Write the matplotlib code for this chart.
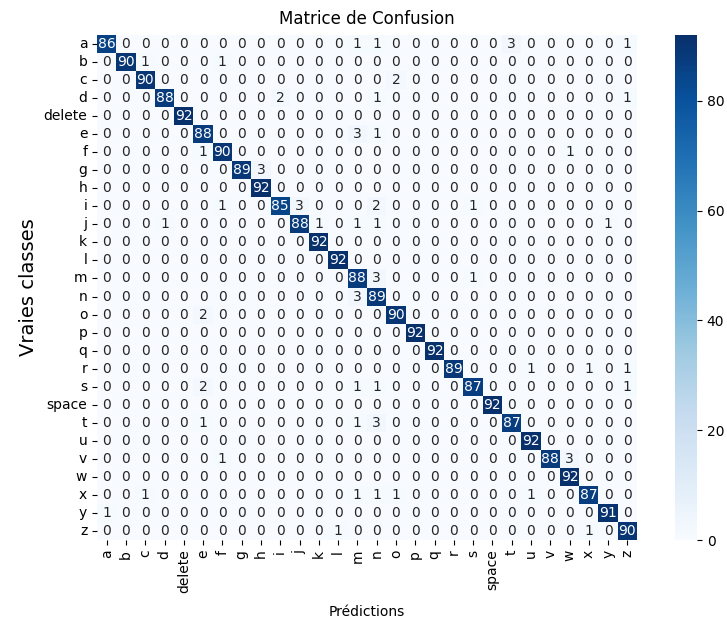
import numpy as np
import matplotlib
matplotlib.use("Agg")
import matplotlib.pyplot as plt
import seaborn as sns

classes = ["a", "b", "c", "d", "delete", "e", "f", "g", "h", "i", "j", "k", "l", "m",
           "n", "o", "p", "q", "r", "s", "space", "t", "u", "v", "w", "x", "y", "z"]

# lignes = vraies classes, colonnes = prédictions
cm = np.array([
    [86, 0, 0, 0, 0, 0, 0, 0, 0, 0, 0, 0, 0, 1, 1, 0, 0, 0, 0, 0, 0, 3, 0, 0, 0, 0, 0, 1],
    [0, 90, 1, 0, 0, 0, 1, 0, 0, 0, 0, 0, 0, 0, 0, 0, 0, 0, 0, 0, 0, 0, 0, 0, 0, 0, 0, 0],
    [0, 0, 90, 0, 0, 0, 0, 0, 0, 0, 0, 0, 0, 0, 0, 2, 0, 0, 0, 0, 0, 0, 0, 0, 0, 0, 0, 0],
    [0, 0, 0, 88, 0, 0, 0, 0, 0, 2, 0, 0, 0, 0, 1, 0, 0, 0, 0, 0, 0, 0, 0, 0, 0, 0, 0, 1],
    [0, 0, 0, 0, 92, 0, 0, 0, 0, 0, 0, 0, 0, 0, 0, 0, 0, 0, 0, 0, 0, 0, 0, 0, 0, 0, 0, 0],
    [0, 0, 0, 0, 0, 88, 0, 0, 0, 0, 0, 0, 0, 3, 1, 0, 0, 0, 0, 0, 0, 0, 0, 0, 0, 0, 0, 0],
    [0, 0, 0, 0, 0, 1, 90, 0, 0, 0, 0, 0, 0, 0, 0, 0, 0, 0, 0, 0, 0, 0, 0, 0, 1, 0, 0, 0],
    [0, 0, 0, 0, 0, 0, 0, 89, 3, 0, 0, 0, 0, 0, 0, 0, 0, 0, 0, 0, 0, 0, 0, 0, 0, 0, 0, 0],
    [0, 0, 0, 0, 0, 0, 0, 0, 92, 0, 0, 0, 0, 0, 0, 0, 0, 0, 0, 0, 0, 0, 0, 0, 0, 0, 0, 0],
    [0, 0, 0, 0, 0, 0, 1, 0, 0, 85, 3, 0, 0, 0, 2, 0, 0, 0, 0, 1, 0, 0, 0, 0, 0, 0, 0, 0],
    [0, 0, 0, 1, 0, 0, 0, 0, 0, 0, 88, 1, 0, 1, 1, 0, 0, 0, 0, 0, 0, 0, 0, 0, 0, 0, 1, 0],
    [0, 0, 0, 0, 0, 0, 0, 0, 0, 0, 0, 92, 0, 0, 0, 0, 0, 0, 0, 0, 0, 0, 0, 0, 0, 0, 0, 0],
    [0, 0, 0, 0, 0, 0, 0, 0, 0, 0, 0, 0, 92, 0, 0, 0, 0, 0, 0, 0, 0, 0, 0, 0, 0, 0, 0, 0],
    [0, 0, 0, 0, 0, 0, 0, 0, 0, 0, 0, 0, 0, 88, 3, 0, 0, 0, 0, 1, 0, 0, 0, 0, 0, 0, 0, 0],
    [0, 0, 0, 0, 0, 0, 0, 0, 0, 0, 0, 0, 0, 3, 89, 0, 0, 0, 0, 0, 0, 0, 0, 0, 0, 0, 0, 0],
    [0, 0, 0, 0, 0, 2, 0, 0, 0, 0, 0, 0, 0, 0, 0, 90, 0, 0, 0, 0, 0, 0, 0, 0, 0, 0, 0, 0],
    [0, 0, 0, 0, 0, 0, 0, 0, 0, 0, 0, 0, 0, 0, 0, 0, 92, 0, 0, 0, 0, 0, 0, 0, 0, 0, 0, 0],
    [0, 0, 0, 0, 0, 0, 0, 0, 0, 0, 0, 0, 0, 0, 0, 0, 0, 92, 0, 0, 0, 0, 0, 0, 0, 0, 0, 0],
    [0, 0, 0, 0, 0, 0, 0, 0, 0, 0, 0, 0, 0, 0, 0, 0, 0, 0, 89, 0, 0, 0, 1, 0, 0, 1, 0, 1],
    [0, 0, 0, 0, 0, 2, 0, 0, 0, 0, 0, 0, 0, 1, 1, 0, 0, 0, 0, 87, 0, 0, 0, 0, 0, 0, 0, 1],
    [0, 0, 0, 0, 0, 0, 0, 0, 0, 0, 0, 0, 0, 0, 0, 0, 0, 0, 0, 0, 92, 0, 0, 0, 0, 0, 0, 0],
    [0, 0, 0, 0, 0, 1, 0, 0, 0, 0, 0, 0, 0, 1, 3, 0, 0, 0, 0, 0, 0, 87, 0, 0, 0, 0, 0, 0],
    [0, 0, 0, 0, 0, 0, 0, 0, 0, 0, 0, 0, 0, 0, 0, 0, 0, 0, 0, 0, 0, 0, 92, 0, 0, 0, 0, 0],
    [0, 0, 0, 0, 0, 0, 1, 0, 0, 0, 0, 0, 0, 0, 0, 0, 0, 0, 0, 0, 0, 0, 0, 88, 3, 0, 0, 0],
    [0, 0, 0, 0, 0, 0, 0, 0, 0, 0, 0, 0, 0, 0, 0, 0, 0, 0, 0, 0, 0, 0, 0, 0, 92, 0, 0, 0],
    [0, 0, 1, 0, 0, 0, 0, 0, 0, 0, 0, 0, 0, 1, 1, 1, 0, 0, 0, 0, 0, 0, 1, 0, 0, 87, 0, 0],
    [1, 0, 0, 0, 0, 0, 0, 0, 0, 0, 0, 0, 0, 0, 0, 0, 0, 0, 0, 0, 0, 0, 0, 0, 0, 0, 91, 0],
    [0, 0, 0, 0, 0, 0, 0, 0, 0, 0, 0, 0, 1, 0, 0, 0, 0, 0, 0, 0, 0, 0, 0, 0, 0, 1, 0, 90],
])

W, H = 727, 624
fig = plt.figure(figsize=(W / 100, H / 100), dpi=100)
ax = fig.add_axes([97 / W, 1 - 540 / H, 540 / W, 505 / H])
cax = fig.add_axes([675 / W, 1 - 540 / H, 22 / W, 505 / H])

sns.heatmap(cm, annot=True, fmt="d", cmap="Blues", ax=ax, cbar_ax=cax,
            xticklabels=classes, yticklabels=classes, annot_kws={"fontsize": 10})

ax.set_title("Matrice de Confusion", fontsize=12, pad=8)
ax.set_xlabel("Prédictions", fontsize=10, labelpad=8)
ax.set_ylabel("Vraies classes", fontsize=14)
ax.tick_params(axis="x", labelsize=10, rotation=90)
ax.tick_params(axis="y", labelsize=10, rotation=0)
cax.tick_params(labelsize=10)

fig.savefig("out.png", dpi=100)
plt.close(fig)
